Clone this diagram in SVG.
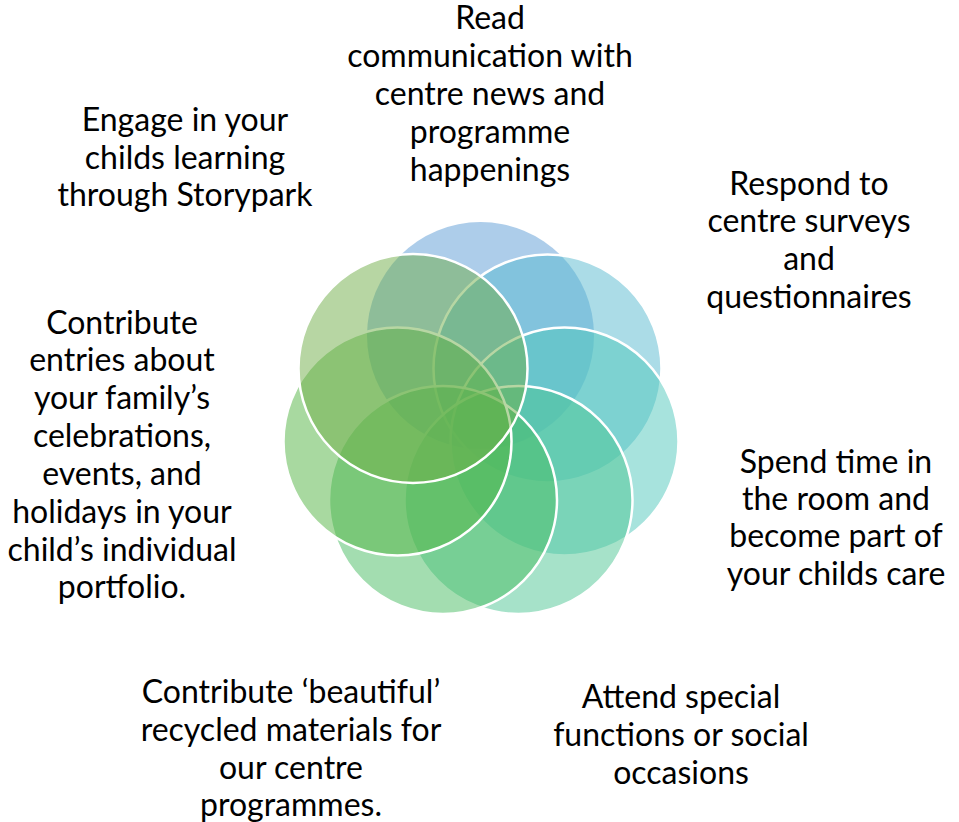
<svg xmlns="http://www.w3.org/2000/svg" width="959" height="822" viewBox="0 0 959 822">
<style>
.c{stroke:#FFFFFF;stroke-width:2.5;fill-opacity:0.5}
.t{font-family:Lato,"Open Sans","Liberation Sans",sans-serif;font-size:32px;fill:#000000;text-anchor:middle}
</style>
<rect width="959" height="822" fill="#FFFFFF"/>
<g id="connectors"/>
<g id="node-1">
<circle cx="480.5" cy="335.5" r="113.5" fill="#5B9BD5" fill-opacity="0.5" stroke="none"/>
<text class="t"><tspan x="490" y="29">Read</tspan><tspan x="490" y="67">communication with</tspan><tspan x="490" y="105">centre news and</tspan><tspan x="490" y="143">programme</tspan><tspan x="490" y="181">happenings</tspan></text>
</g>
<g id="node-2">
<circle class="c" cx="547.5" cy="368.5" r="114" fill="#58B9D0"/>
<text class="t"><tspan x="809" y="195">Respond to</tspan><tspan x="809" y="232">centre surveys</tspan><tspan x="809" y="270">and</tspan><tspan x="809" y="308">questionnaires</tspan></text>
</g>
<g id="node-3">
<circle class="c" cx="564.5" cy="441.5" r="114" fill="#4FC7BB"/>
<text class="t"><tspan x="836" y="473">Spend time in</tspan><tspan x="836" y="510">the room and</tspan><tspan x="836" y="547">become part of</tspan><tspan x="836" y="585">your childs care</tspan></text>
</g>
<g id="node-4">
<circle class="c" cx="518.5" cy="500" r="114" fill="#4DC594"/>
<text class="t"><tspan x="681" y="708">Attend special</tspan><tspan x="681" y="746">functions or social</tspan><tspan x="681" y="784">occasions</tspan></text>
</g>
<g id="node-5">
<circle class="c" cx="443" cy="500" r="114" fill="#48BB62"/>
<text class="t"><tspan x="291" y="703">Contribute ‘beautiful’</tspan><tspan x="291" y="741">recycled materials for</tspan><tspan x="291" y="779">our centre</tspan><tspan x="291" y="816">programmes.</tspan></text>
</g>
<g id="node-6">
<circle class="c" cx="397.5" cy="441.5" r="114" fill="#51B342"/>
<text class="t"><tspan x="122" y="334">Contribute</tspan><tspan x="122" y="371">entries about</tspan><tspan x="122" y="409">your family’s</tspan><tspan x="122" y="447">celebrations,</tspan><tspan x="122" y="485">events, and</tspan><tspan x="122" y="523">holidays in your</tspan><tspan x="122" y="561">child’s individual</tspan><tspan x="122" y="598">portfolio.</tspan></text>
</g>
<g id="node-7">
<circle class="c" cx="413" cy="368.5" r="114.5" fill="#70AD47"/>
<text class="t"><tspan x="185" y="131">Engage in your</tspan><tspan x="185" y="169">childs learning</tspan><tspan x="185" y="206">through Storypark</tspan></text>
</g>
</svg>
